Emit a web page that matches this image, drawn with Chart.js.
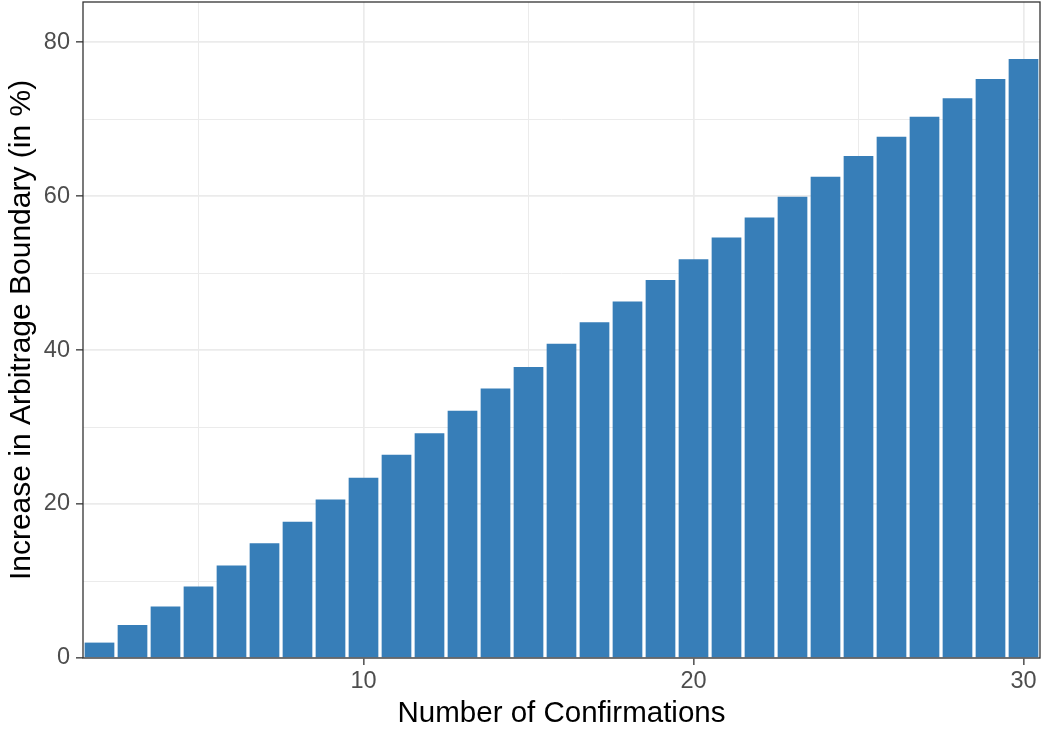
<!DOCTYPE html>
<html>
<head>
<meta charset="utf-8">
<script src="https://cdn.jsdelivr.net/npm/chart.js@4/dist/chart.umd.min.js"></script>
<style>
  html, body { margin: 0; padding: 0; background: #ffffff; }
  #wrap { width: 1042px; height: 731px; }
</style>
</head>
<body>
<div id="wrap"><canvas id="c" width="1042" height="731"></canvas></div>
<script>
const confirmations = [2, 3, 4, 5, 6, 7, 8, 9, 10, 11, 12, 13, 14, 15, 16, 17, 18, 19, 20, 21, 22, 23, 24, 25, 26, 27, 28, 29, 30];
const increasePct = [2.0, 4.3, 6.7, 9.3, 12.0, 14.9, 17.7, 20.6, 23.4, 26.4, 29.2, 32.1, 35.0, 37.8, 40.8, 43.6, 46.3, 49.1, 51.8, 54.6, 57.2, 59.9, 62.5, 65.2, 67.7, 70.3, 72.7, 75.2, 77.8];
const xTitle = "Number of Confirmations";
const yTitle = "Increase in Arbitrage Boundary (in %)";

const FONT = "'Liberation Sans', Arial, Helvetica, sans-serif";

const panelBorder = {
  id: 'panelBorder',
  afterDatasetsDraw(chart) {
    const a = chart.chartArea, ctx = chart.ctx;
    ctx.save();
    ctx.strokeStyle = '#333333';
    ctx.lineWidth = 1.3;
    ctx.strokeRect(a.left, a.top, a.right - a.left, a.bottom - a.top);
    ctx.restore();
  }
};

new Chart(document.getElementById('c'), {
  type: 'bar',
  data: {
    datasets: [{
      data: confirmations.map((x, i) => ({ x: x, y: increasePct[i] })),
      backgroundColor: '#377EB8',
      borderWidth: 0,
      barPercentage: 0.9,
      categoryPercentage: 1.0
    }]
  },
  options: {
    responsive: false,
    animation: false,
    layout: { padding: { top: 2, right: 2, left: 0, bottom: 0 } },
    plugins: { legend: { display: false }, tooltip: { enabled: false } },
    scales: {
      x: {
        type: 'linear',
        offset: false,
        min: 1.5,
        max: 30.5,
        afterFit(s) { s.height = 73; s.paddingLeft = 0; s.paddingRight = 0; },
        border: { display: false },
        grid: {
          offset: false,
          color: '#EBEBEB',
          lineWidth: c => (c.tick && c.tick.value % 10 === 0) ? 1.7 : 1.0,
          tickColor: c => (c.tick && c.tick.value % 10 === 0) ? '#333333' : 'rgba(0,0,0,0)',
          tickWidth: 1.3,
          tickLength: 7
        },
        ticks: {
          stepSize: 5,
          includeBounds: false,
          autoSkip: false,
          maxRotation: 0,
          padding: 2,
          color: '#4D4D4D',
          font: { family: FONT, size: 23.5 },
          callback: v => (v % 10 === 0 ? String(v) : '')
        },
        title: {
          display: true,
          text: xTitle,
          color: '#000000',
          font: { family: FONT, size: 29.5, lineHeight: 1 },
          padding: { top: 0, bottom: 2 }
        }
      },
      y: {
        min: 0,
        max: 85.2,
        afterFit(s) { s.width = 83; s.paddingTop = 0; s.paddingBottom = 0; },
        border: { display: false },
        grid: {
          color: '#EBEBEB',
          lineWidth: c => (c.tick && c.tick.value % 20 === 0) ? 1.7 : 1.0,
          tickColor: c => (c.tick && c.tick.value % 20 === 0) ? '#333333' : 'rgba(0,0,0,0)',
          tickWidth: 1.3,
          tickLength: 7
        },
        ticks: {
          stepSize: 10,
          includeBounds: false,
          autoSkip: false,
          padding: 6,
          color: '#4D4D4D',
          font: { family: FONT, size: 23.5 },
          callback: v => (v % 20 === 0 ? String(v) : '')
        },
        title: {
          display: true,
          text: yTitle,
          color: '#000000',
          font: { family: FONT, size: 30, lineHeight: 1 },
          padding: { top: 7, bottom: 0 }
        }
      }
    }
  },
  plugins: [panelBorder]
});
</script>
</body>
</html>
